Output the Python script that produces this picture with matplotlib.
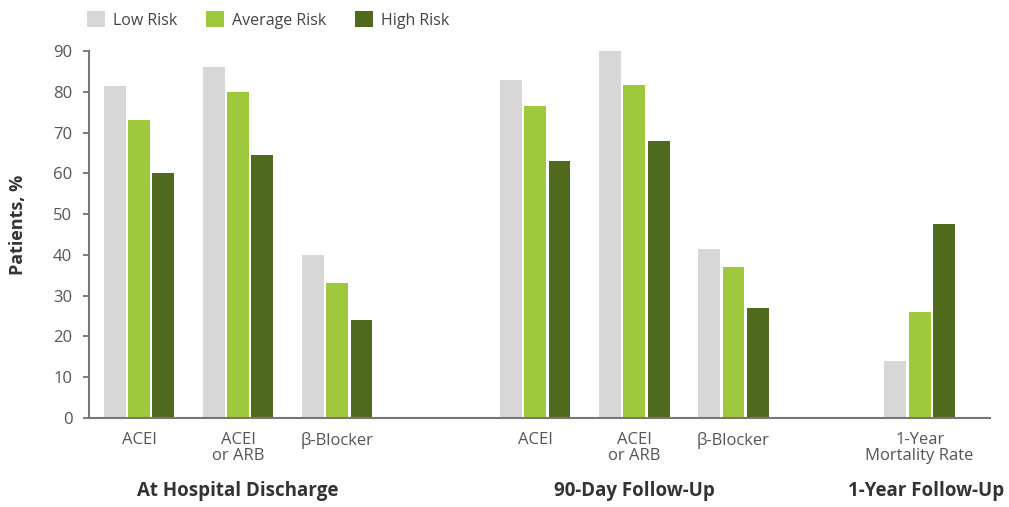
import matplotlib.pyplot as plt
import numpy as np

# Data
categories = ["ACEI", "ACEI\nor ARB", "\u03b2-Blocker",
              "ACEI", "ACEI\nor ARB", "\u03b2-Blocker",
              "1-Year\nMortality Rate"]
group_names = ["At Hospital Discharge", "90-Day Follow-Up", "1-Year Follow-Up"]
group_sizes = [3, 3, 1]
low_risk = [81.5, 86, 40, 83, 90, 41.5, 14]
average_risk = [73, 80, 33, 76.5, 81.7, 37, 26]
high_risk = [60, 64.5, 24, 63, 68, 27, 47.5]
series_names = ["Low Risk", "Average Risk", "High Risk"]
colors = ["#d7d7d7", "#9ec93c", "#4f6a1c"]
y_ticks = [0, 10, 20, 30, 40, 50, 60, 70, 80, 90]

plt.rcParams['font.family'] = ['Open Sans', 'DejaVu Sans']

# Category positions: unit spacing within a group, wider gaps between groups
gaps = [0, 1.0, 0.88]
positions = []
start = 0.0
for gi, n in enumerate(group_sizes):
    start += gaps[gi]
    for k in range(n):
        positions.append(start + k)
    start += n
positions = np.array(positions)

fig = plt.figure(figsize=(10.09, 5.07), dpi=100)
ax = fig.add_axes([89 / 1009, 1 - 418 / 507, (990 - 89) / 1009, (418 - 51) / 507])

bar_w = 0.22
step = 0.245
for i, (vals, c, name) in enumerate(zip([low_risk, average_risk, high_risk], colors, series_names)):
    ax.bar(positions + (i - 1) * step, vals, width=bar_w, color=c, label=name, zorder=2)

ax.set_xlim(positions[0] - 0.505, positions[-1] + 0.71)
ax.set_ylim(0, 90)
ax.set_yticks(y_ticks)
ax.set_yticklabels([str(t) for t in y_ticks], fontsize=12, color="#555555")
ax.set_xticks(positions)
ax.set_xticklabels(categories, fontsize=12, color="#555555", linespacing=1.0)
ax.tick_params(axis='x', length=0, pad=10)
ax.tick_params(axis='y', length=4, width=1.2, color="#666666", pad=8)

for s in ["top", "right"]:
    ax.spines[s].set_visible(False)
for s in ["left", "bottom"]:
    ax.spines[s].set_color("#777777")
    ax.spines[s].set_linewidth(1.5)

# Y-axis title
fig.text(18 / 1009, 1 - 225 / 507, "Patients, %", rotation=90, ha="center", va="center",
         fontsize=13, fontweight="bold", color="#333333")

# Group labels beneath the category labels
idx = 0
group_label_x = []
for n in group_sizes:
    group_label_x.append(np.mean(positions[idx:idx + n]))
    idx += n
group_label_x[-1] = positions[-1] + 0.07
for gx, gname in zip(group_label_x, group_names):
    ax.text(gx, -17.8, gname, ha="center", va="center", fontsize=13.5,
            fontweight="bold", color="#333333", transform=ax.transData, clip_on=False)

leg = fig.legend(loc="upper left", bbox_to_anchor=(73 / 1009, 1.006), ncol=3,
                 frameon=False, fontsize=11.5, handlelength=1.12, handleheight=1.12,
                 handletextpad=0.5, columnspacing=1.8, labelcolor="#444444")

fig.savefig("out.png", dpi=100)
